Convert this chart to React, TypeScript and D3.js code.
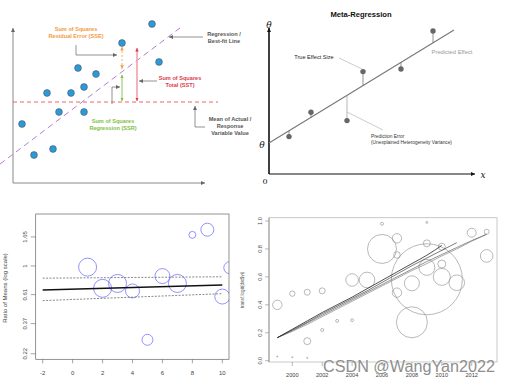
import React from 'react';
import * as d3 from 'd3';

// ---- panel 1: sums of squares sketch ----
const ssX = [13.9, 10.9, 14.6, 6.5, 8.3, 7.1, 3.4, 5.8, 4.6, 7.1, 0.9, 4.0, 2.1];
const ssY = [15.9, 14.0, 12.1, 11.5, 10.9, 9.6, 9.0, 9.0, 7.1, 7.1, 5.9, 3.4, 2.8];
const ssMean = 8.1;
const ssFitX = [-1.3, 16.7];
const ssFitY = [1.9, 15.5];
const sseX = 10.9;
const sstX = 12.4;
const sstTop = 13.5;
const sseTop = 13.6;

// ---- panel 2: meta-regression sketch ----
const metaX = [1.0, 2.1, 3.9, 4.7, 6.6, 8.2];
const metaY = [1.87, 3.09, 2.67, 5.12, 5.25, 7.15];
const metaIntercept = 1.55;
const metaSlope = 0.611;
const metaLineEnd = 9.25;

// ---- panel 3: ratio of means, log scale ----
const rmX = [1, 2, 3, 4, 5, 6, 7, 8, 9, 10, 10.5];
const rmY = [0.98, 0.68, 0.74, 0.65, 0.28, 0.84, 0.74, 1.71, 1.87, 0.59, 0.97];
const rmWeight = [81, 81, 81, 49, 30, 56, 81, 12, 42, 56, 36];
const rmFitX = [-2, 10];
const rmFit = [0.66, 0.72];
const rmUpper = [0.81, 0.83];
const rmLower = [0.55, 0.62];
const rmTicksY = [0.22, 0.37, 0.61, 1, 1.65];
const rmTicksX = [-2, 0, 2, 4, 6, 8, 10];

// ---- panel 4: transf.logit over years ----
const tlYear = [1999, 2000, 2001, 2002, 2001, 2002, 2003, 2004, 2004, 2005, 2006, 2006, 2007, 2007, 2007, 2008, 2008, 2009, 2009, 2009, 2009, 2010, 2010, 2010, 2011, 2012, 2013, 2013, 1999, 2000, 2001];
const tlValue = [0.40, 0.48, 0.49, 0.50, 0.14, 0.22, 0.285, 0.29, 0.578, 0.578, 0.80, 0.98, 0.876, 0.757, 0.487, 0.554, 0.275, 0.583, 0.668, 0.84, 0.99, 0.816, 0.692, 0.60, 0.558, 0.916, 0.923, 0.75, 0.03, 0.025, 0.02];
const tlRadius = [4.7, 2.7, 3, 3, 3.5, 1.5, 1.5, 1.4, 6.3, 7.8, 14.5, 1.5, 4.7, 3.3, 4.7, 7.5, 15.5, 35.5, 8, 3.5, 1, 3.5, 4, 8.5, 7.8, 4.5, 2.5, 6.3, 0.6, 0.6, 0.6];
const fitYearsStart = 1999;
const fitA = [0.165, 0.225, 0.285, 0.345, 0.40, 0.455, 0.515, 0.575, 0.635, 0.695, 0.755, 0.825];
const fitB = [0.165, 0.22, 0.275, 0.335, 0.39, 0.445, 0.50, 0.56, 0.62, 0.68, 0.735, 0.79, 0.845];
const fitC = [0.165, 0.215, 0.27, 0.325, 0.38, 0.435, 0.49, 0.545, 0.60, 0.655, 0.71, 0.76, 0.81, 0.86, 0.905];
const fitD = [0.165, 0.21, 0.26, 0.315, 0.37, 0.425, 0.48, 0.535, 0.59, 0.645, 0.695, 0.75, 0.80, 0.855, 0.905];
const tlTicksX = [2000, 2002, 2004, 2006, 2008, 2010, 2012];
const tlTicksY = [0, 0.2, 0.4, 0.6, 0.8, 1.0];

const SANS = '"Liberation Sans", Arial, sans-serif';
const SERIF = '"DejaVu Serif", "Liberation Serif", serif';

function Arrow({ id, color, size = 4 }: { id: string; color: string; size?: number }) {
  return (
    <marker id={id} markerUnits="userSpaceOnUse" markerWidth={size} markerHeight={size}
      refX={size} refY={size / 2} orient="auto-start-reverse" viewBox={`0 0 ${size} ${size}`}>
      <path d={`M0,0L${size},${size / 2}L0,${size}z`} fill={color} />
    </marker>
  );
}

function SumOfSquares() {
  const x = d3.scaleLinear().domain([0, 20]).range([13, 213]);
  const y = d3.scaleLinear().domain([0, 15.5]).range([183, 28]);
  const fit = (v: number) => ssFitY[0] + (v - ssFitX[0]) * (ssFitY[1] - ssFitY[0]) / (ssFitX[1] - ssFitX[0]);
  const fs = 5.6;
  return (
    <g fontFamily={SANS} fontWeight="bold" fontSize={fs} textAnchor="middle">
      <line x1={x(0)} y1={y(0)} x2={x(0)} y2={y(15.5)} stroke="#888" strokeWidth={1} markerEnd="url(#aGray)" />
      <line x1={x(0)} y1={y(0)} x2={x(19.2)} y2={y(0)} stroke="#888" strokeWidth={1} markerEnd="url(#aGray)" />
      <line x1={x(0)} y1={y(ssMean)} x2={x(20.5)} y2={y(ssMean)} stroke="#ef5454" strokeWidth={0.9} strokeDasharray="4,3" />
      <line x1={x(ssFitX[0])} y1={y(ssFitY[0])} x2={x(ssFitX[1])} y2={y(ssFitY[1])} stroke="#b57fd0" strokeWidth={1} strokeDasharray="6,4" />
      {/* SSE */}
      <line x1={x(sseX)} y1={y(sseTop)} x2={x(sseX)} y2={y(fit(sseX) + 0.3)} stroke="#f39a3b" strokeWidth={0.8} strokeDasharray="2,2"
        markerStart="url(#aOrange)" markerEnd="url(#aOrange)" />
      {/* SSR */}
      <line x1={x(sseX)} y1={y(fit(sseX) - 0.3)} x2={x(sseX)} y2={y(ssMean + 0.1)} stroke="#7dc144" strokeWidth={0.9}
        markerStart="url(#aGreen)" markerEnd="url(#aGreen)" />
      {/* SST */}
      <line x1={x(sstX)} y1={y(sstTop)} x2={x(sstX)} y2={y(ssMean + 0.1)} stroke="#f0a0a8" strokeWidth={1.6}
        markerStart="url(#aRed)" markerEnd="url(#aRed)" />
      {ssX.map((v, i) => (
        <circle key={i} cx={x(v)} cy={y(ssY[i])} r={3.4} fill="#2b9ad8" stroke="#556" strokeWidth={0.6} />
      ))}
      {/* annotations */}
      <polyline points="76,45 76,55 117,55" fill="none" stroke="#777" strokeWidth={0.8} markerEnd="url(#aGray)" />
      <line x1={203} y1={37} x2={169} y2={37} stroke="#777" strokeWidth={0.8} markerEnd="url(#aGray)" />
      <line x1={157} y1={81} x2={139} y2={81} stroke="#777" strokeWidth={0.8} markerEnd="url(#aGray)" />
      <polyline points="112,104 112,87 120,87" fill="none" stroke="#777" strokeWidth={0.8} markerEnd="url(#aGray)" />
      <polyline points="205,127 195,127 195,106" fill="none" stroke="#777" strokeWidth={0.8} markerEnd="url(#aGray)" />
      <text x={76} y={31} fill="#f39a3b">Sum of Squares</text>
      <text x={76} y={38} fill="#f39a3b">Residual Error (SSE)</text>
      <text x={224} y={36} fill="#555">Regression /</text>
      <text x={224} y={43} fill="#555">Best-fit Line</text>
      <text x={180} y={80} fill="#e0394b">Sum of Squares</text>
      <text x={180} y={87} fill="#e0394b">Total (SST)</text>
      <text x={113} y={123} fill="#7dc144">Sum of Squares</text>
      <text x={113} y={130} fill="#7dc144">Regression (SSR)</text>
      <text x={230} y={121} fill="#555">Mean of Actual /</text>
      <text x={230} y={128} fill="#555">Response</text>
      <text x={230} y={135} fill="#555">Variable Value</text>
    </g>
  );
}

function MetaRegression() {
  const x = d3.scaleLinear().domain([0, 10.3]).range([269, 475]);
  const y = d3.scaleLinear().domain([0, 7.2]).range([174, 30]);
  const line = (v: number) => metaIntercept + metaSlope * v;
  return (
    <g fontFamily={SANS}>
      <text x={361} y={17} textAnchor="middle" fontWeight="bold" fontSize={7.6} fill="#111">Meta-Regression</text>
      <line x1={x(0)} y1={y(0)} x2={x(0)} y2={y(7.3)} stroke="#111" strokeWidth={1.6} markerEnd="url(#aBlack)" />
      <line x1={x(0)} y1={y(0)} x2={x(10.3)} y2={y(0)} stroke="#111" strokeWidth={1.2} markerEnd="url(#aBlack)" />
      <line x1={x(0)} y1={y(line(0))} x2={x(metaLineEnd)} y2={y(line(metaLineEnd))} stroke="#777" strokeWidth={1.1} />
      {metaX.map((v, i) => (
        <line key={'s' + i} x1={x(v)} y1={y(metaY[i])} x2={x(v)} y2={y(line(v))} stroke={i === 2 ? '#999' : '#666'} strokeWidth={0.7} />
      ))}
      {metaX.map((v, i) => (
        <circle key={i} cx={x(v)} cy={y(metaY[i])} r={2.7} fill="#666" />
      ))}
      <polyline points="339,58 362,69" fill="none" stroke="#aaa" strokeWidth={0.6} />
      <polyline points="347,112 383,130" fill="none" stroke="#aaa" strokeWidth={0.6} />
      <text x={314} y={59} textAnchor="middle" fontSize={5.6} fill="#222">True Effect Size</text>
      <text x={452} y={54} textAnchor="middle" fontSize={5.8} fill="#999">Predicted Effect</text>
      <text x={371} y={138} fontSize={4.8} fill="#333">Prediction Error</text>
      <text x={371} y={144} fontSize={4.8} fill="#333">(Unexplained Heterogeneity Variance)</text>
      <text x={269} y={28} textAnchor="middle" fontFamily={SERIF} fontStyle="italic" fontSize={9} fill="#111">θ</text>
      <text x={262} y={148} textAnchor="middle" fontFamily={SERIF} fontStyle="italic" fontSize={9} fill="#111">θ</text>
      <text x={265} y={184} textAnchor="middle" fontFamily={SERIF} fontSize={8} fill="#111">0</text>
      <text x={483} y={178} textAnchor="middle" fontFamily={SERIF} fontStyle="italic" fontSize={9} fill="#111">x</text>
    </g>
  );
}

function RatioOfMeans() {
  const left = 35.7, right = 229, top = 214, bottom = 359.3;
  const x = d3.scaleLinear().domain([-2, 10]).range([42.7, 222.3]);
  const y = d3.scaleLog().domain([0.2, 2.45]).range([bottom, top]);
  const r = d3.scaleSqrt().domain([0, 81]).range([0, 9]);
  const seg = (vals: number[]) => d3.line<number>().x((_, i) => x(rmFitX[i])).y(v => y(v))(vals) ?? '';
  return (
    <g fontFamily={SANS} fontSize={6} fill="#444">
      <defs>
        <clipPath id="clipRm"><rect x={left} y={top} width={right - left} height={bottom - top} /></clipPath>
      </defs>
      <g clipPath="url(#clipRm)">
        {rmX.map((v, i) => (
          <circle key={i} cx={x(v)} cy={y(rmY[i])} r={r(rmWeight[i])} fill="none" stroke="#6464ff" strokeWidth={0.7} />
        ))}
      </g>
      <path d={seg(rmUpper)} fill="none" stroke="#555" strokeWidth={0.7} strokeDasharray="2,1.4" />
      <path d={seg(rmLower)} fill="none" stroke="#555" strokeWidth={0.7} strokeDasharray="2,1.4" />
      <path d={seg(rmFit)} fill="none" stroke="#111" strokeWidth={1.5} />
      <rect x={left} y={top} width={right - left} height={bottom - top} fill="none" stroke="#666" strokeWidth={0.7} />
      {rmTicksY.map(t => (
        <g key={t}>
          <line x1={left - 5} x2={left} y1={y(t)} y2={y(t)} stroke="#666" strokeWidth={0.6} />
          <text transform={`translate(${left - 11},${y(t)}) rotate(-90)`} textAnchor="middle" dy="0.35em">{String(t)}</text>
        </g>
      ))}
      {rmTicksX.map(t => (
        <g key={t}>
          <line x1={x(t)} x2={x(t)} y1={bottom} y2={bottom + 4} stroke="#666" strokeWidth={0.6} />
          <text x={x(t)} y={375} textAnchor="middle">{String(t)}</text>
        </g>
      ))}
      <text transform={`translate(7,288) rotate(-90)`} textAnchor="middle" fontSize={6}>Ratio of Means (log scale)</text>
      <text transform={`translate(244,290) rotate(-90)`} textAnchor="middle" fontSize={4.6} fill="#555">transf.logit(dat$yi)</text>
    </g>
  );
}

function TransfLogit() {
  const left = 269, right = 497, top = 217.7, bottom = 362;
  const x = d3.scaleLinear().domain([2000, 2012]).range([292.3, 471.7]);
  const y = d3.scaleLinear().domain([0, 1]).range([360.7, 221]);
  const line = d3.line<number>().x((_, i) => x(fitYearsStart + i)).y(v => y(v)).curve(d3.curveMonotoneX);
  return (
    <g fontFamily={SANS} fontSize={5.6} fill="#444">
      {tlYear.map((v, i) => (
        <circle key={i} cx={x(v)} cy={y(tlValue[i])} r={tlRadius[i]} fill="none" stroke="#8a8a8a" strokeWidth={0.6} />
      ))}
      <path d={line(fitD) ?? ''} fill="none" stroke="#888" strokeWidth={0.7} />
      <path d={line(fitC) ?? ''} fill="none" stroke="#666" strokeWidth={0.7} />
      <path d={line(fitB) ?? ''} fill="none" stroke="#444" strokeWidth={0.7} />
      <path d={line(fitA) ?? ''} fill="none" stroke="#222" strokeWidth={0.8} />
      <rect x={left} y={top} width={right - left} height={bottom - top} fill="none" stroke="#bbb" strokeWidth={0.8} />
      <line x1={left} x2={left} y1={top} y2={bottom} stroke="#888" strokeWidth={0.8} />
      {tlTicksY.map(t => (
        <g key={t}>
          <line x1={left - 4} x2={left} y1={y(t)} y2={y(t)} stroke="#888" strokeWidth={0.6} />
          <text transform={`translate(${left - 9},${y(t)}) rotate(-90)`} textAnchor="middle" dy="0.35em">{t.toFixed(1)}</text>
        </g>
      ))}
      {tlTicksX.map(t => (
        <g key={t}>
          <line x1={x(t)} x2={x(t)} y1={bottom} y2={bottom + 4} stroke="#888" strokeWidth={0.6} />
          <text x={x(t)} y={377} textAnchor="middle">{String(t)}</text>
        </g>
      ))}
      <text x={323} y={372} fontSize={16} textLength={172} lengthAdjust="spacingAndGlyphs" fill="#8e8e8e"
        stroke="#fff" strokeWidth={0.5} paintOrder="stroke">CSDN @WangYan2022</text>
    </g>
  );
}

export default function App() {
  return (
    <svg width={510} height={386} style={{ position: 'absolute', left: 0, top: 0, background: '#fff' }}>
      <defs>
        <Arrow id="aGray" color="#666" />
        <Arrow id="aBlack" color="#111" />
        <Arrow id="aOrange" color="#f39a3b" size={3.5} />
        <Arrow id="aGreen" color="#7dc144" size={3.5} />
        <Arrow id="aRed" color="#e0394b" size={3.5} />
      </defs>
      <SumOfSquares />
      <MetaRegression />
      <RatioOfMeans />
      <TransfLogit />
    </svg>
  );
}
